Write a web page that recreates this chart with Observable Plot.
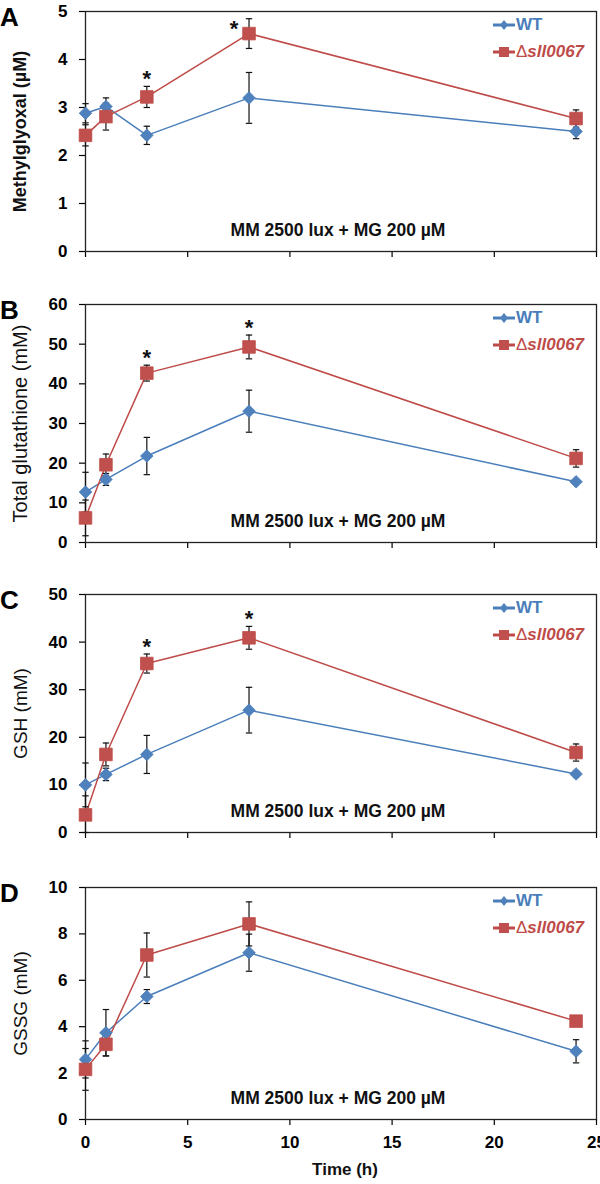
<!DOCTYPE html>
<html><head><meta charset="utf-8">
<script src="https://cdn.jsdelivr.net/npm/d3@7"></script>
<script src="https://cdn.jsdelivr.net/npm/@observablehq/plot@0.6"></script>
<style>
body{margin:0;background:#fff;font-family:"Liberation Sans",Arial,sans-serif;}
#wrap{position:relative;width:600px;height:1184px;overflow:hidden;background:#fff}
.panel{position:absolute;left:0}
.letter{position:absolute;left:0;font-weight:bold;font-size:26px;line-height:26px;color:#000}
.leg{position:absolute;left:493px;height:20px;display:flex;align-items:center;font-size:17px;font-weight:bold;white-space:nowrap}
.leg svg{margin-right:1px}
</style></head><body><div id="wrap"></div>
<script>
// ---- data ----
const times = [0, 1, 3, 8, 24];
const letters = ["A", "B", "C", "D"];
const yLabels = ["Methylglyoxal (µM)", "Total glutathione (mM)", "GSH (mM)", "GSSG (mM)"];
const yMax = [5, 60, 50, 10];
const yTickStep = [1, 10, 10, 2];
const wtMean  = [[2.88, 3.02, 2.42, 3.20, 2.50], [12.7, 15.9, 21.8, 33.1, 15.3], [10.0, 12.2, 16.4, 25.7, 12.3], [2.59, 3.74, 5.30, 7.19, 2.94]];
const wtErr   = [[0.20, 0.18, 0.19, 0.53, 0.15], [5.0, 1.5, 4.7, 5.3, 0.5], [4.6, 1.3, 4.0, 4.8, 0.6], [0.8, 1.0, 0.3, 0.8, 0.5]];
const mutMean = [[2.42, 2.81, 3.22, 4.54, 2.77], [6.2, 19.6, 42.7, 49.3, 21.2], [3.7, 16.4, 35.5, 40.9, 16.8], [2.16, 3.24, 7.09, 8.43, 4.24]];
const mutErr  = [[0.22, 0.28, 0.22, 0.31, 0.18], [4.5, 2.7, 2.0, 3.0, 2.2], [4.0, 2.4, 2.0, 2.4, 1.8], [0.9, 0.5, 0.95, 0.95, 0.1]];
const starTimes = [[3, 8], [3, 8], [3, 8], []];
const xTicks = [0, 5, 10, 15, 20, 25];
const seriesNames = ["WT", "Δsll0067"];
const condition = "MM 2500 lux + MG 200 µM";
const xTitle = "Time (h)";

// ---- style / layout ----
const blueLine = "#4a7ebb", blueFill = "#4f81bd", redLine = "#be4b48", redFill = "#c0504d";
const areaTop = [11, 304, 594, 887];
const areaBottom = [251, 542, 832, 1119];
const labelSize = [18, 20, 19, 19];
const labelWeight = ["bold", "normal", "normal", "normal"];
const font = "'Liberation Sans', Arial, sans-serif";

const diamondSym = {draw(ctx, size) {const r = Math.sqrt(size / Math.PI); ctx.moveTo(0, -r); ctx.lineTo(r, 0); ctx.lineTo(0, r); ctx.lineTo(-r, 0); ctx.closePath();}};
const squareSym = {draw(ctx, size) {const r = Math.sqrt(size / Math.PI); ctx.rect(-r, -r, 2 * r, 2 * r);}};
const capSym = {draw(ctx, size) {const r = Math.sqrt(size / Math.PI); ctx.moveTo(-r, 0); ctx.lineTo(r, 0);}};

const wrap = document.getElementById("wrap");

for (let i = 0; i < 4; i++) {
  const wt = times.map((t, j) => ({t, v: wtMean[i][j], e: wtErr[i][j]}));
  const mut = times.map((t, j) => ({t, v: mutMean[i][j], e: mutErr[i][j]}));
  const all = wt.concat(mut);
  const stars = starTimes[i].map(t => {const j = times.indexOf(t); return {t, top: mutMean[i][j] + mutErr[i][j], v: mutMean[i][j]};});
  const starsAbove = stars.filter(s => s.top < yMax[i] * 0.9);
  const starsSide = stars.filter(s => s.top >= yMax[i] * 0.9);
  const mt = 12, mb = i === 3 ? 1184 - areaBottom[i] : 12;
  const H = areaBottom[i] - areaTop[i] + mt + mb;
  const yTicks = d3.range(0, yMax[i] + 1e-9, yTickStep[i]);
  const chart = Plot.plot({
    width: 600, height: H,
    marginLeft: 85, marginRight: 4, marginTop: mt, marginBottom: mb,
    style: {fontFamily: font, background: "transparent", color: "#000", overflow: "visible"},
    x: {domain: [0, 25]},
    y: {domain: [0, yMax[i]]},
    marks: [
      Plot.axisY({ticks: yTicks, tickSize: 6, tickPadding: 12, fontSize: 17, fontWeight: "bold", label: null, strokeWidth: 1.2,
        tickFormat: d => String(d)}),
      Plot.axisX({ticks: xTicks, tickSize: 6, tickPadding: 10, fontSize: 17, fontWeight: "bold", label: null,
        tickFormat: i === 3 ? (d => String(d)) : (() => ""), strokeWidth: 1.2}),
      Plot.frame({stroke: "#222", strokeWidth: 1.3}),
      Plot.text([yLabels[i]], {frameAnchor: "left", rotate: -90, dx: -65, textAnchor: "middle", lineAnchor: "middle",
        fontSize: labelSize[i], fontWeight: labelWeight[i], fill: "#111"}),
      Plot.text([condition], {frameAnchor: "bottom", dx: -3, dy: -16, fontSize: 17.5, fontWeight: "bold", fill: "#111"}),
      i === 3 ? Plot.text([xTitle], {frameAnchor: "bottom", dx: 4, dy: 55, fontSize: 17, fontWeight: "bold", fill: "#111"}) : null,
      Plot.line(wt, {x: "t", y: "v", stroke: blueLine, strokeWidth: 1.5}),
      Plot.line(mut, {x: "t", y: "v", stroke: redLine, strokeWidth: 1.5}),
      Plot.ruleX(all, {x: "t", y1: d => Math.max(0, d.v - d.e), y2: d => d.v + d.e, stroke: "#111", strokeWidth: 1.2}),
      Plot.dot(all, {x: "t", y: d => d.v + d.e, symbol: capSym, r: 3.2, stroke: "#111", fill: "none", strokeWidth: 1.2}),
      Plot.dot(all, {x: "t", y: d => Math.max(0, d.v - d.e), symbol: capSym, r: 3.2, stroke: "#111", fill: "none", strokeWidth: 1.2}),
      Plot.dot(wt, {x: "t", y: "v", symbol: diamondSym, r: 6.3, fill: blueFill, stroke: blueLine, strokeWidth: 0.8}),
      Plot.dot(mut, {x: "t", y: "v", symbol: squareSym, r: 6.3, fill: redFill, stroke: redLine, strokeWidth: 0.8}),
      Plot.text(starsAbove, {x: "t", y: "top", text: () => "*", dy: -7, fontSize: 22, fontWeight: "bold", fill: "#111"}),
      Plot.text(starsSide, {x: "t", y: "v", text: () => "*", dx: -15, dy: -5, fontSize: 22, fontWeight: "bold", fill: "#111"})
    ].filter(Boolean)
  });
  chart.classList.add("panel");
  chart.style.top = (areaTop[i] - mt) + "px";
  wrap.appendChild(chart);

  const L = document.createElement("div");
  L.className = "letter";
  L.style.top = (areaTop[i] - 7) + "px";
  L.textContent = letters[i];
  wrap.appendChild(L);

  const rows = [
    {y: areaTop[i] + 14, color: blueLine, fill: blueFill, sym: "diamond", html: seriesNames[0]},
    {y: areaTop[i] + 41, color: redLine, fill: redFill, sym: "square",
     html: '<span style="font-weight:normal">' + seriesNames[1].slice(0, 1) + '</span><span style="font-style:italic">' + seriesNames[1].slice(1) + '</span>'}
  ];
  rows.forEach(r => {
    const d = document.createElement("div");
    d.className = "leg";
    d.style.top = (r.y - 10) + "px";
    d.style.color = r.color;
    const marker = r.sym === "diamond"
      ? '<path d="M11,5 L15,10 L11,15 L7,10 Z" fill="' + r.fill + '"/>'
      : '<rect x="6" y="5" width="10" height="10" fill="' + r.fill + '"/>';
    d.innerHTML = '<svg width="22" height="20"><line x1="0" x2="22" y1="10" y2="10" stroke="' + r.color + '" stroke-width="3"/>' + marker + '</svg><span>' + r.html + '</span>';
    wrap.appendChild(d);
  });
}
</script></body></html>
